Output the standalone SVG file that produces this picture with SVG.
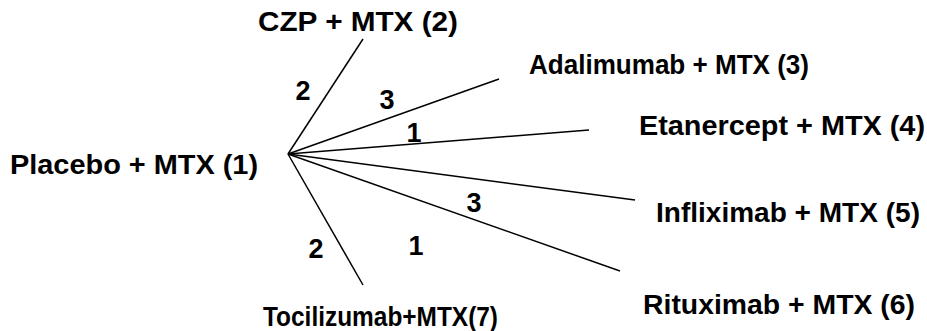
<svg xmlns="http://www.w3.org/2000/svg" width="927" height="331" viewBox="0 0 927 331">
  <style>
    .lbl { font-family: "Liberation Sans", Arial, sans-serif; font-size: 27px; font-weight: bold; fill: #000; }
    .num { font-family: "Liberation Sans", Arial, sans-serif; font-size: 27px; font-weight: bold; fill: #000; text-anchor: middle; }
    .edge { stroke: #000; stroke-width: 1.5; fill: none; }
  </style>
  <rect width="927" height="331" fill="#fff"/>

  <!-- connectors from the reference treatment -->
  <g id="connectors">
    <line class="edge" x1="288" y1="154" x2="363" y2="39"/>
    <line class="edge" x1="288" y1="154" x2="499" y2="79"/>
    <line class="edge" x1="288" y1="154" x2="589" y2="130"/>
    <line class="edge" x1="288" y1="154" x2="635" y2="200"/>
    <line class="edge" x1="288" y1="154" x2="620" y2="271"/>
    <line class="edge" x1="288" y1="154" x2="363" y2="285"/>
    <!-- number of trials per comparison -->
    <text class="num" x="303" y="100">2</text>
    <text class="num" x="387" y="109">3</text>
    <text class="num" x="414" y="142">1</text>
    <text class="num" x="474" y="212">3</text>
    <text class="num" x="416" y="255">1</text>
    <text class="num" x="316" y="258">2</text>
  </g>

  <g id="node1"><text class="lbl" x="10" y="174" textLength="248" lengthAdjust="spacingAndGlyphs">Placebo + MTX (1)</text></g>
  <g id="node2"><text class="lbl" x="258" y="31" textLength="200" lengthAdjust="spacingAndGlyphs">CZP + MTX (2)</text></g>
  <g id="node3"><text class="lbl" x="529" y="74" textLength="280" lengthAdjust="spacingAndGlyphs">Adalimumab + MTX (3)</text></g>
  <g id="node4"><text class="lbl" x="639" y="135" textLength="286" lengthAdjust="spacingAndGlyphs">Etanercept + MTX (4)</text></g>
  <g id="node5"><text class="lbl" x="656" y="222" textLength="264" lengthAdjust="spacingAndGlyphs">Infliximab + MTX (5)</text></g>
  <g id="node6"><text class="lbl" x="643" y="314" textLength="272" lengthAdjust="spacingAndGlyphs">Rituximab + MTX (6)</text></g>
  <g id="node7"><text class="lbl" x="263" y="326" textLength="235" lengthAdjust="spacingAndGlyphs">Tocilizumab+MTX(7)</text></g>
</svg>
